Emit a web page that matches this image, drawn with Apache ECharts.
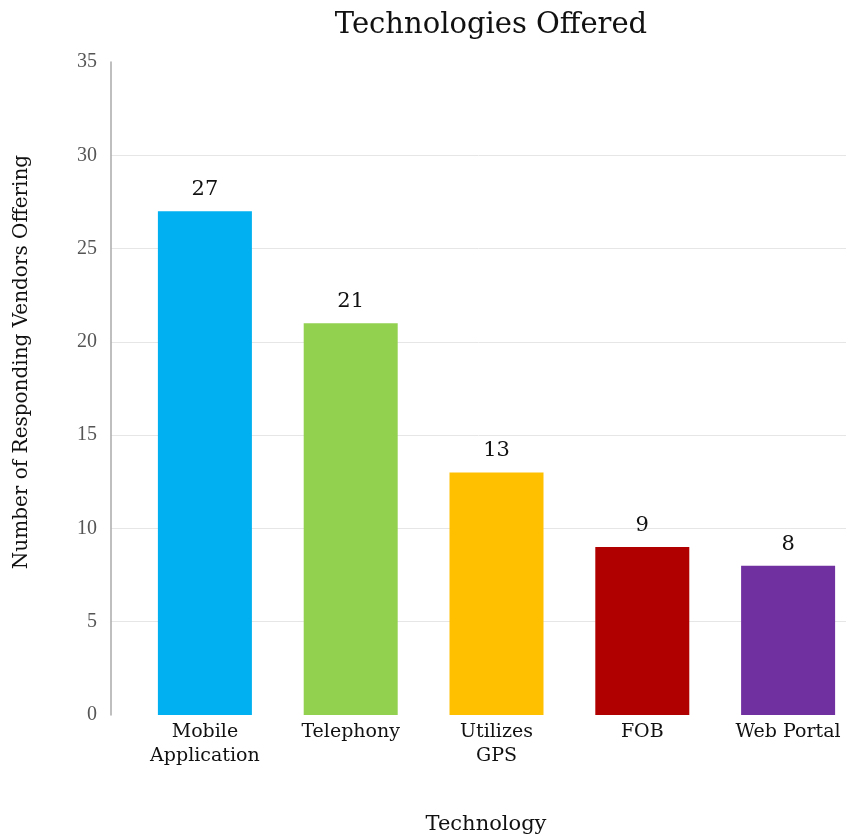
<!DOCTYPE html>
<html>
<head>
<meta charset="utf-8">
<script src="https://cdn.jsdelivr.net/npm/echarts@6/dist/echarts.min.js"></script>
<style>
  html, body { margin: 0; padding: 0; background: #fff; }
  #chart { width: 846px; height: 839px; }
</style>
</head>
<body>
<div id="chart"></div>
<script>
const categories = ['Mobile\nApplication', 'Telephony', 'Utilizes\nGPS', 'FOB', 'Web Portal'];
const vendorCounts = [27, 21, 13, 9, 8];
const barColors = ['#00B0F0', '#92D050', '#FFC000', '#B00000', '#7030A0'];
const yTicks = { min: 0, max: 35, interval: 5 };

const serif = '"DejaVu Serif", Georgia, serif';
const tickFont = '"Liberation Serif", serif';
const chart = echarts.init(document.getElementById('chart'));

chart.setOption({
  animation: false,
  title: {
    text: 'Technologies Offered',
    left: 486, top: 6, textAlign: 'center',
    textStyle: { fontFamily: serif, fontSize: 29, fontWeight: 'normal', color: '#111' }
  },
  grid: [
    { left: 111, right: 0, top: 62, bottom: 124 },   // axis + split lines
    { left: 132, width: 729, top: 62, bottom: 124, outerBoundsMode: 'none' }  // bars
  ],
  xAxis: [
    { gridIndex: 0, type: 'value', show: false },
    {
      gridIndex: 1, type: 'category', data: categories,
      axisLine: { show: false }, axisTick: { show: false },
      axisLabel: { fontFamily: serif, fontSize: 19, color: '#111', lineHeight: 24, margin: 5, interval: 0 }
    }
  ],
  yAxis: [
    {
      gridIndex: 0, type: 'value', ...yTicks,
      axisLine: { show: true, lineStyle: { color: '#aaa', width: 1.5 } },
      axisTick: { show: false },
      axisLabel: { fontFamily: tickFont, fontSize: 20, color: '#555', margin: 14 },
      splitLine: { show: true, showMaxLine: false, showMinLine: false, lineStyle: { color: '#e6e6e6' } }
    },
    { gridIndex: 1, type: 'value', ...yTicks, show: false, splitLine: { show: false } }
  ],
  graphic: [
    {
      type: 'text', x: 22, y: 362, rotation: Math.PI / 2,
      style: { text: 'Number of Responding Vendors Offering', font: '20px ' + serif, fill: '#111', align: 'center', verticalAlign: 'middle' }
    },
    {
      type: 'text', x: 486, y: 825,
      style: { text: 'Technology', font: '21px ' + serif, fill: '#111', align: 'center', verticalAlign: 'middle' }
    }
  ],
  series: [{
    type: 'bar', xAxisIndex: 1, yAxisIndex: 1,
    barWidth: 94,
    data: vendorCounts.map((v, i) => ({ value: v, itemStyle: { color: barColors[i] } })),
    label: {
      show: true, position: 'top', distance: 11,
      fontFamily: serif, fontSize: 21, color: '#111'
    }
  }]
});
</script>
</body>
</html>
